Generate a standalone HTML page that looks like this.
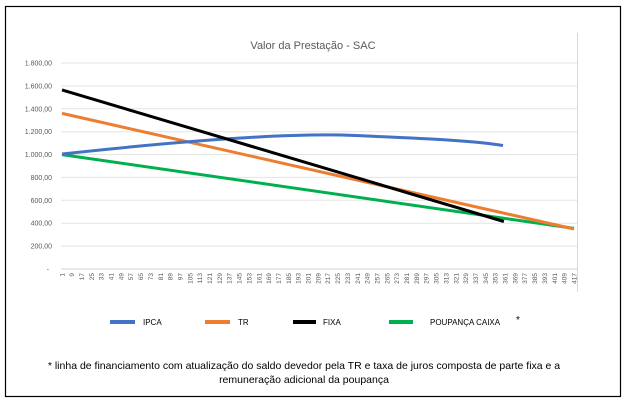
<!DOCTYPE html>
<html><head><meta charset="utf-8"><style>
body{margin:0;background:#fff;}
svg{display:block;font-family:"Liberation Sans",sans-serif;}
</style></head><body>
<svg width="626" height="402" viewBox="0 0 626 402" xmlns="http://www.w3.org/2000/svg">
<rect x="5.5" y="6.5" width="615" height="390" fill="#fff" stroke="#000" stroke-width="1.2"/>
<line x1="577.5" y1="33" x2="577.5" y2="292" stroke="#d9d9d9"/>
<text x="313" y="49" text-anchor="middle" font-size="11" fill="#595959">Valor da Prestação - SAC</text>
<g stroke="#e3e3e3" stroke-width="1">
<line x1="61" y1="63" x2="577" y2="63"/><line x1="61" y1="85.9" x2="577" y2="85.9"/>
<line x1="61" y1="108.8" x2="577" y2="108.8"/><line x1="61" y1="131.7" x2="577" y2="131.7"/>
<line x1="61" y1="154.6" x2="577" y2="154.6"/><line x1="61" y1="177.4" x2="577" y2="177.4"/>
<line x1="61" y1="200.3" x2="577" y2="200.3"/><line x1="61" y1="223.2" x2="577" y2="223.2"/>
<line x1="61" y1="246.1" x2="577" y2="246.1"/><line x1="61" y1="269" x2="577" y2="269" stroke="#d0d0d0"/>
</g>
<g font-size="7" fill="#595959" text-anchor="end">
<text x="52" y="65.5">1.800,00</text><text x="52" y="88.4">1.600,00</text>
<text x="52" y="111.3">1.400,00</text><text x="52" y="134.2">1.200,00</text>
<text x="52" y="157.1">1.000,00</text><text x="52" y="180">800,00</text>
<text x="52" y="202.8">600,00</text><text x="52" y="225.7">400,00</text>
<text x="52" y="248.6">200,00</text><text x="49" y="271.5">-</text>
</g>
<g font-size="6.5" fill="#595959" text-anchor="end">
<text transform="translate(64.3,273) rotate(-90)">1</text><text transform="translate(74.1,273) rotate(-90)">9</text><text transform="translate(84.0,273) rotate(-90)">17</text><text transform="translate(93.8,273) rotate(-90)">25</text><text transform="translate(103.7,273) rotate(-90)">33</text><text transform="translate(113.5,273) rotate(-90)">41</text><text transform="translate(123.4,273) rotate(-90)">49</text><text transform="translate(133.2,273) rotate(-90)">57</text><text transform="translate(143.1,273) rotate(-90)">65</text><text transform="translate(152.9,273) rotate(-90)">73</text><text transform="translate(162.8,273) rotate(-90)">81</text><text transform="translate(172.6,273) rotate(-90)">89</text><text transform="translate(182.5,273) rotate(-90)">97</text><text transform="translate(192.3,273) rotate(-90)">105</text><text transform="translate(202.2,273) rotate(-90)">113</text><text transform="translate(212.0,273) rotate(-90)">121</text><text transform="translate(221.9,273) rotate(-90)">129</text><text transform="translate(231.7,273) rotate(-90)">137</text><text transform="translate(241.6,273) rotate(-90)">145</text><text transform="translate(251.4,273) rotate(-90)">153</text><text transform="translate(261.3,273) rotate(-90)">161</text><text transform="translate(271.1,273) rotate(-90)">169</text><text transform="translate(281.0,273) rotate(-90)">177</text><text transform="translate(290.8,273) rotate(-90)">185</text><text transform="translate(300.7,273) rotate(-90)">193</text><text transform="translate(310.5,273) rotate(-90)">201</text><text transform="translate(320.4,273) rotate(-90)">209</text><text transform="translate(330.2,273) rotate(-90)">217</text><text transform="translate(340.1,273) rotate(-90)">225</text><text transform="translate(349.9,273) rotate(-90)">233</text><text transform="translate(359.8,273) rotate(-90)">241</text><text transform="translate(369.6,273) rotate(-90)">249</text><text transform="translate(379.5,273) rotate(-90)">257</text><text transform="translate(389.3,273) rotate(-90)">265</text><text transform="translate(399.2,273) rotate(-90)">273</text><text transform="translate(409.0,273) rotate(-90)">281</text><text transform="translate(418.9,273) rotate(-90)">289</text><text transform="translate(428.7,273) rotate(-90)">297</text><text transform="translate(438.6,273) rotate(-90)">305</text><text transform="translate(448.4,273) rotate(-90)">313</text><text transform="translate(458.3,273) rotate(-90)">321</text><text transform="translate(468.1,273) rotate(-90)">329</text><text transform="translate(478.0,273) rotate(-90)">337</text><text transform="translate(487.8,273) rotate(-90)">345</text><text transform="translate(497.7,273) rotate(-90)">353</text><text transform="translate(507.5,273) rotate(-90)">361</text><text transform="translate(517.4,273) rotate(-90)">369</text><text transform="translate(527.2,273) rotate(-90)">377</text><text transform="translate(537.1,273) rotate(-90)">385</text><text transform="translate(546.9,273) rotate(-90)">393</text><text transform="translate(556.8,273) rotate(-90)">401</text><text transform="translate(566.6,273) rotate(-90)">409</text><text transform="translate(576.5,273) rotate(-90)">417</text>
</g>
<g fill="none" stroke-width="3" stroke-linecap="butt">
<path d="M62,154.6 L574,228.4" stroke="#00b050"/>
<path d="M62,113.4 L574,229" stroke="#ed7d31"/>
<path d="M62,154 C200,139 300,133 355,135.5 S470,140 503,145.5" stroke="#4472c4"/>
<path d="M62,89.9 L503.9,221.5" stroke="#000"/>
</g>
<g stroke-width="4">
<line x1="110" y1="322" x2="135" y2="322" stroke="#4472c4"/>
<line x1="205" y1="322" x2="230" y2="322" stroke="#ed7d31"/>
<line x1="293" y1="322" x2="316" y2="322" stroke="#000"/>
<line x1="389" y1="322" x2="413" y2="322" stroke="#00b050"/>
</g>
<g font-size="8" fill="#000">
<text x="143" y="325">IPCA</text><text x="238" y="325">TR</text>
<text x="323" y="325">FIXA</text><text x="430" y="325">POUPANÇA CAIXA</text>
<text x="516" y="323" font-size="10">*</text>
</g>
<g font-size="10.5" fill="#000" text-anchor="middle">
<text x="304" y="369">* linha de financiamento com atualização do saldo devedor pela TR e taxa de juros composta de parte fixa e a</text>
<text x="304" y="383">remuneração adicional da poupança</text>
</g>
</svg>
</body></html>
